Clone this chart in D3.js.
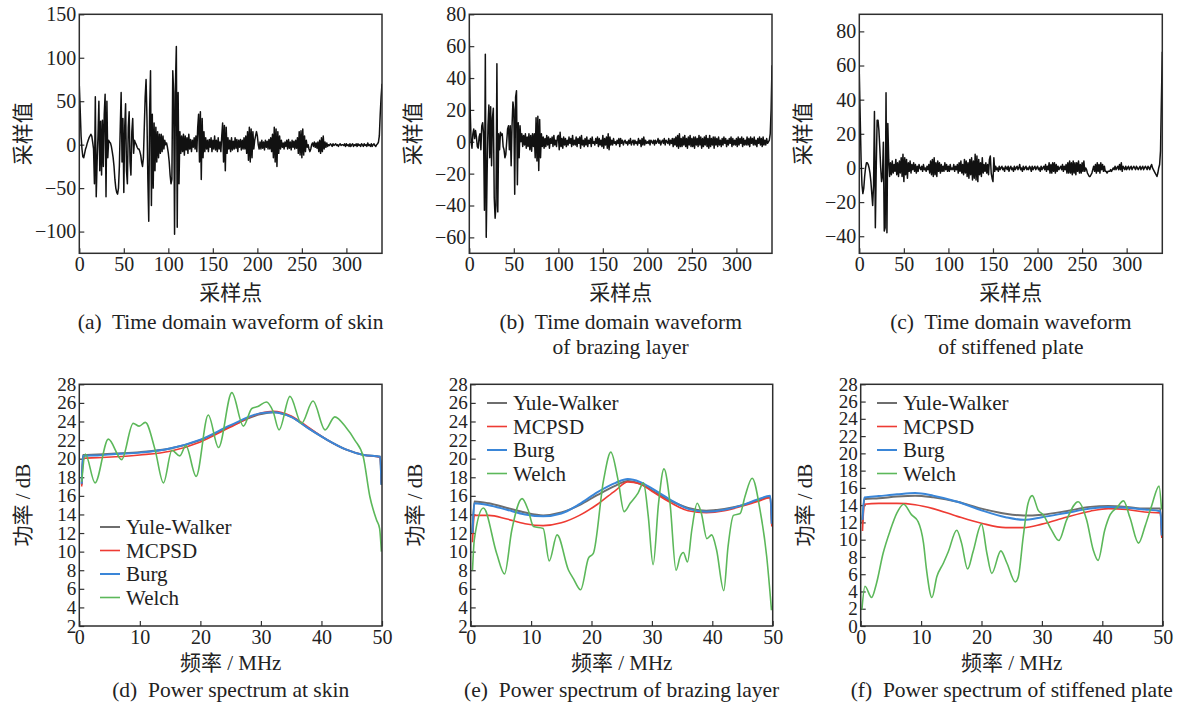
<!DOCTYPE html>
<html>
<head>
<meta charset="utf-8">
<script src="https://cdn.jsdelivr.net/npm/d3@7"></script>
<style>
  body { margin: 0; background: #fff; }
</style>
</head>
<body>
<script>
// ---- data: time-domain waveforms (one value per sample, 0..340) ----
var waveSkin = [
  68, 40, 10, -5, -14, -15, -10, -5, -2, 2, 5, 8, 10, 12, 10, 3, -5, -45, 55, -60,
  -20, 10, 50, -30, 27, -35, 28, -25, 35, 58, -60, 50, -15, 5, 3, 2, -2, -8, -15, -25,
  -40, -50, -55, -57, -50, -25, 20, 60, -20, 30, -55, 20, 47, -30, -45, 20, 38, -20, -35, 15,
  30, -10, 5, 2, 0, -3, -5, -5, -8, -12, -20, -25, -15, 20, 55, 75, 30, -40, -88, 40,
  85, -70, 35, -50, 25, -30, 20, -20, 15, -15, 12, -10, 12, -8, 10, -5, 5, 0, 2, -3,
  -10, -20, -35, -45, -40, 85, 60, -103, 70, 113, -95, 60, -45, 15, -10, 10, -8, 12, -12, 10,
  -6, 8, -10, 12, -5, 6, -8, 5, -3, 8, -5, 10, -8, 20, 35, -20, 38, -40, 30, -15,
  15, -8, 8, -5, 5, -8, 6, -3, 8, -8, 5, -5, 10, -6, 5, -8, 8, -5, 3, -8,
  10, 25, -20, 22, -30, 20, -10, 8, -5, 5, -8, 8, -6, 4, -5, 8, -4, 6, -8, 5,
  -3, 6, -6, 5, -5, 8, -5, 10, -10, 15, -18, 20, -20, 18, -15, 15, -5, 5, 10, 15,
  10, 0, -5, 3, -5, 5, -4, 3, -6, 5, -3, 4, -5, 6, -5, 8, -8, 12, -15, 20,
  -20, 18, -25, 15, -10, 10, -5, 5, -3, 2, -5, 3, -2, 5, -5, 6, -4, 3, -6, 5,
  -3, 4, -5, 5, -4, 8, -10, 15, -12, 16, -15, 18, -12, 10, -8, 5, -3, 0, -5, -8,
  -5, 0, 2, -2, 3, -3, 2, -4, 3, -8, 5, -10, 8, -8, 10, -5, 3, -3, 2, -2,
  0, -1, 1, 0, -2, 1, -1, 0, 1, -1, 0, -2, 0, 1, -1, 0, 0, -1, 1, -2,
  1, -1, 0, -2, 1, -2, 0, 1, -2, 0, -1, 1, -2, 1, -1, 0, -2, 1, 0, -2,
  1, -1, 0, -2, 2, -1, 0, -2, 1, -2, 0, 1, -1, -2, 0, 1, 3, 10, 35, 55,
  70
];
var waveBrazing = [
  65, 20, 0, -4, 5, 8, 2, 7, 3, -3, -4, 3, 5, -5, 10, 12, 5, -43, 55, -60,
  -20, 10, 23, -10, 22, -15, 15, 21, -35, -48, -40, 49, -44, 5, -5, 6, 4, 5, -3, -5,
  -10, -8, 0, 8, 10, -5, 10, -15, 10, 25, 20, -33, 28, 32, -27, 12, -10, 10, 0, 5,
  -3, 4, -2, 5, -4, 3, -3, 5, -5, 4, -6, 5, -3, 5, -10, 15, -12, 16, -18, 14,
  -10, 5, -3, 3, -4, 2, -3, 4, -2, 3, -4, 2, -1, 3, -3, 4, -2, 1, -3, 3,
  4, -5, 6, -3, 2, -4, 3, -2, 2, -3, 1, -2, 3, -1, 2, -3, 4, -2, 1, -2,
  3, -3, 2, -1, 3, -4, 4, -2, 1, -3, 2, -2, 3, -3, 1, -1, 2, -3, 3, -1,
  0, -2, 2, -1, 3, -3, 2, -2, 1, -3, 4, -4, 2, -2, 3, -4, 5, -5, 3, -2,
  1, -2, 2, -1, 0, -2, 1, -1, 2, -3, 2, -1, 1, -2, 0, 1, -1, 0, -2, 1,
  -1, 2, -2, 0, 1, -2, 1, -1, 0, -2, 2, -1, 1, -3, 2, -2, 3, -2, 1, -1,
  0, -1, 1, -2, 1, 0, -1, 1, -2, 1, -1, 0, 2, -1, 1, -2, 0, 1, -1, 2,
  -2, 1, 0, -1, 2, -2, 1, -1, 2, -3, 2, -2, 3, -3, 4, -4, 5, -3, 2, -3,
  3, -2, 4, -3, 2, -4, 3, -2, 4, -3, 2, -3, 3, -4, 3, -2, 2, -3, 4, -2,
  3, -4, 2, -3, 3, -2, 4, -3, 2, -4, 4, -3, 2, -2, 3, -4, 3, -2, 2, -3,
  3, -2, 1, -3, 2, -2, 3, -1, 2, -3, 1, -2, 2, -1, 3, -3, 2, -2, 1, -2,
  2, -3, 3, -2, 2, -1, 3, -3, 2, -2, 1, -2, 3, -2, 2, -3, 3, -1, 2, -2,
  3, -2, 1, -3, 2, -1, 3, -2, 2, -3, 3, -2, 1, -2, 2, -1, 0, 1, 5, 20,
  48
];
var wavePlate = [
  55, 30, 5, -10, -15, -12, -5, 0, 3, 3, 2, 0, -3, -8, -15, -22, -10, 33, -35, 0,
  28, 28, 22, 12, 0, -8, -5, 15, -37, -35, 44, -38, 26, 5, -5, 3, -4, 4, -3, 2,
  -2, 5, -4, 3, -5, 4, -3, 6, -5, 8, -8, 6, -4, 5, -6, 3, -2, 4, -3, 2,
  -1, 3, -2, 2, -3, 1, -2, 2, 0, -1, 1, -2, 2, -1, 0, -2, 1, -1, 2, -3,
  4, -4, 5, -5, 6, -4, 3, -5, 4, -2, 3, -3, 2, -2, 1, -2, 3, -1, 2, -2,
  1, -2, 2, -1, 0, -1, 2, -2, 1, -1, 2, -3, 3, -2, 4, -3, 2, -4, 5, -3,
  4, -5, 3, -6, 5, -4, 6, -7, 4, -6, 8, -7, 7, -8, 5, -4, 3, -5, 6, -3,
  2, -2, 3, -3, 2, -4, 5, 7, -3, -6, -8, 6, -2, 1, -1, 0, -2, 1, -1, 0,
  1, -1, 0, -2, 1, 0, -1, 1, -2, 0, 1, -1, 0, -2, 1, -1, 0, 1, -1, 0,
  2, -1, 0, -2, 1, -1, 0, 1, -1, 0, -1, 1, 0, -2, 1, -1, 0, 1, -1, 0,
  1, -1, 0, -2, 1, -1, 0, 1, -1, 2, -2, 1, -1, 3, -3, 2, -3, 3, -2, 3,
  -3, 2, -2, 1, -1, 0, 1, -1, 2, -2, 1, -1, 2, -3, 3, -3, 4, -3, 3, -4,
  4, -3, 3, -4, 3, -2, 4, -3, 2, -3, 3, -2, 4, -2, 0, -1, -3, -4, -5, -5,
  -4, -3, -1, 1, -2, 2, -3, 3, -2, 2, -3, 3, -1, 2, -2, 1, -2, -2, -3, -2,
  -2, -2, -1, -2, -1, 0, -1, 1, -1, 0, 1, -1, 2, -1, 3, -2, 1, 0, -1, 1,
  -1, 0, 1, -1, 0, 1, -1, 0, 1, 0, -1, 1, 0, -1, 0, 1, -1, 0, 1, -1,
  0, 1, 0, -1, 1, 0, -1, 1, 2, 0, -1, -2, -3, -4, -5, -3, 0, 2, 10, 40,
  68
];

// ---- data: power spectra (MHz, dB) ----
var skinArFreq = [0.4, 0.6, 3, 6, 10, 15, 20, 25, 30, 32, 35, 38, 41, 44, 47, 49.7, 49.9];
var skinYuleWalker = [17.2, 20.4, 20.45, 20.55, 20.7, 21.1, 22.0, 23.5, 24.8, 25.0, 24.5, 23.2, 22.0, 21.0, 20.4, 20.2, 17.2];
var skinMcpsd = [17.0, 20.05, 20.1, 20.2, 20.4, 20.8, 21.8, 23.4, 24.9, 25.1, 24.6, 23.3, 22.0, 21.0, 20.4, 20.15, 17.4];
var skinBurg = [17.3, 20.3, 20.35, 20.5, 20.65, 21.1, 22.05, 23.6, 24.9, 25.0, 24.5, 23.2, 22.0, 21.0, 20.4, 20.2, 17.2];
var skinWelchFreq = [0.4, 1.0, 2.6, 4.8, 7.0, 8.9, 9.9, 10.9, 12.5, 13.9, 15.3, 16.6, 17.6, 19.3, 21.3, 23.0, 25.2, 27.1, 28.5, 29.5,
  30.9, 32.0, 33.0, 34.8, 36.7, 38.6, 40.6, 42.2, 44.0, 45.5, 46.9, 48.0, 49.1, 49.6, 49.9];
var skinWelch = [17.5, 20.5, 17.4, 22.1, 19.9, 23.8, 23.5, 23.9, 21.0, 17.4, 20.9, 20.3, 21.4, 18.1, 24.7, 21.2, 27.1, 23.5, 25.4, 25.6,
  26.1, 25.1, 23.1, 26.7, 23.8, 26.2, 23.1, 24.5, 23.4, 22.0, 20.2, 15.9, 13.4, 12.5, 10.0];

var brazArFreq = [0.3, 0.6, 3, 6, 9, 12, 15, 18, 21, 24, 26, 28, 30, 33, 36, 39, 42, 45, 47.5, 49.6, 49.85];
var brazYuleWalker = [12.0, 15.4, 15.2, 14.7, 14.2, 13.9, 14.2, 15.0, 16.1, 17.1, 17.6, 17.3, 16.6, 15.5, 14.7, 14.4, 14.6, 15.0, 15.5, 15.9, 13.0];
var brazMcpsd = [11.0, 13.9, 13.9, 13.5, 13.0, 12.8, 13.1, 13.9, 15.1, 16.6, 17.5, 17.3, 16.5, 15.3, 14.4, 14.2, 14.4, 14.9, 15.4, 15.8, 12.7];
var brazBurg = [12.0, 15.2, 15.0, 14.5, 14.0, 13.8, 14.1, 15.1, 16.4, 17.4, 17.8, 17.5, 16.8, 15.6, 14.6, 14.3, 14.5, 15.0, 15.6, 16.0, 13.0];
var brazWelchFreq = [0.3, 0.6, 2.1, 4.3, 5.6, 6.8, 8.5, 9.5, 10.4, 12.0, 13.0, 14.3, 16.2, 17.0, 18.2, 19.5, 20.3, 22.0, 23.2, 24.4,
  25.4, 26.4, 27.7, 28.6, 29.4, 30.2, 31.1, 32.0, 33.0, 34.0, 34.7, 35.2, 35.9, 36.6, 37.5, 38.2, 39.1, 39.9, 40.7, 41.9,
  42.6, 43.5, 44.6, 45.4, 46.6, 47.9, 49.0, 49.8];
var brazWelch = [8.0, 11.3, 14.7, 9.8, 7.6, 12.3, 15.7, 14.5, 12.7, 12.5, 9.0, 11.8, 8.0, 7.1, 5.9, 9.3, 9.8, 17.7, 20.7, 17.7,
  14.3, 15.2, 16.3, 17.4, 13.8, 8.6, 15.2, 18.9, 15.2, 8.0, 9.5, 9.9, 8.9, 12.3, 15.2, 14.1, 11.4, 11.8, 10.2, 5.8,
  10.5, 13.9, 14.1, 15.9, 17.9, 14.5, 9.5, 3.7];

var plateArFreq = [0.3, 0.6, 3, 6, 9, 12, 16, 20, 24, 27, 30, 34, 38, 41, 44, 47, 49.6, 49.85];
var plateYuleWalker = [12.0, 14.7, 14.8, 15.0, 15.1, 14.9, 14.4, 13.6, 13.0, 12.8, 12.9, 13.3, 13.8, 13.9, 13.8, 13.6, 13.6, 10.5];
var plateMcpsd = [11.0, 14.1, 14.2, 14.2, 14.05, 13.6, 12.7, 11.9, 11.4, 11.4, 11.8, 12.6, 13.3, 13.6, 13.5, 13.2, 13.1, 10.2];
var plateBurg = [12.3, 14.9, 15.05, 15.25, 15.4, 15.1, 14.4, 13.4, 12.6, 12.3, 12.6, 13.1, 13.6, 13.8, 13.7, 13.5, 13.3, 10.5];
var plateWelchFreq = [0.2, 0.7, 1.8, 2.6, 3.7, 4.9, 6.0, 7.1, 8.4, 9.5, 10.4, 10.9, 11.8, 12.6, 13.7, 14.5, 15.9, 16.7, 17.7, 18.6,
  20.0, 20.9, 21.7, 23.2, 24.2, 25.6, 26.1, 26.9, 27.7, 28.4, 29.4, 30.2, 31.6, 32.8, 34.1, 36.0, 37.4, 38.5, 39.3, 40.4,
  41.3, 42.4, 43.5, 44.6, 46.0, 47.1, 48.2, 49.4, 49.8];
var plateWelch = [1.9, 4.6, 3.3, 4.9, 8.4, 11.1, 13.1, 14.1, 12.9, 12.1, 9.6, 6.5, 3.3, 5.7, 7.3, 8.6, 11.1, 9.6, 6.6, 8.6,
  11.8, 8.4, 6.1, 8.7, 7.3, 5.1, 5.7, 10.3, 14.2, 15.1, 13.4, 12.9, 11.1, 9.9, 12.3, 14.4, 12.3, 8.8, 7.6, 11.1,
  12.9, 13.7, 14.5, 12.5, 9.6, 11.6, 14.0, 16.2, 13.5];

// ---- tick labels / names ----
var sampleTicks = [0, 50, 100, 150, 200, 250, 300];
var skinWaveTicks = [-100, -50, 0, 50, 100, 150];
var brazWaveTicks = [-60, -40, -20, 0, 20, 40, 60, 80];
var plateWaveTicks = [-40, -20, 0, 20, 40, 60, 80];
var freqTicks = [0, 10, 20, 30, 40, 50];
var dbTicks = [2, 4, 6, 8, 10, 12, 14, 16, 18, 20, 22, 24, 26, 28];
var dbTicksPlate = [0, 2, 4, 6, 8, 10, 12, 14, 16, 18, 20, 22, 24, 26, 28];
var methodNames = ["Yule-Walker", "MCPSD", "Burg", "Welch"];
var methodColors = ["#6e6e6e", "#ee3b33", "#3a86d8", "#5cb85a"];
var methodWidths = [2, 1.6, 2, 1.6];

var serif = "'Liberation Serif', 'Times New Roman', 'Noto Sans CJK SC', serif";

// Step 1: the canvas
var svg = d3.select("body")
            .append("svg")
            .attr("width", 1185)
            .attr("height", 707)
            .style("font-family", serif);

svg.append("rect").attr("width", 1185).attr("height", 707).attr("fill", "#fff");

var clipId = 0;

// Step 2: a generic framed panel with inside ticks
function panel(p) {
  var x = d3.scaleLinear().domain(p.xDomain).range([p.left, p.right]);
  var y = d3.scaleLinear().domain(p.yDomain).range([p.bottom, p.top]);

  var xAxis = svg.append("g")
                 .attr("transform", "translate(0," + p.bottom + ")")
                 .call(d3.axisBottom(x).tickValues(p.xTicks).tickSize(-5).tickPadding(4).tickFormat(d3.format("d")));
  var yAxis = svg.append("g")
                 .attr("transform", "translate(" + p.left + ",0)")
                 .call(d3.axisLeft(y).tickValues(p.yTicks).tickSize(-5).tickPadding(3).tickFormat(d3.format("d")));
  [xAxis, yAxis].forEach(function(g) {
    g.select(".domain").remove();
    g.selectAll(".tick line").attr("stroke", "#333").attr("stroke-width", 1.2);
    g.selectAll(".tick text")
     .attr("fill", "#222")
     .style("font-family", serif)
     .style("font-size", "20px");
  });
  // the dense dB labels are set a touch smaller
  if (p.yTickSize) yAxis.selectAll(".tick text").style("font-size", p.yTickSize);

  clipId++;
  svg.append("clipPath").attr("id", "clip" + clipId)
     .append("rect")
     .attr("x", p.left).attr("y", p.top)
     .attr("width", p.right - p.left).attr("height", p.bottom - p.top);
  var plot = svg.append("g").attr("clip-path", "url(#clip" + clipId + ")");

  // frame
  svg.append("rect")
     .attr("x", p.left).attr("y", p.top)
     .attr("width", p.right - p.left).attr("height", p.bottom - p.top)
     .attr("fill", "none")
     .attr("stroke", "#2e2e2e")
     .attr("stroke-width", 1.5);

  // axis titles
  svg.append("text")
     .attr("transform", "translate(" + (p.left - 56) + "," + ((p.top + p.bottom) / 2) + ") rotate(-90)")
     .attr("text-anchor", "middle")
     .attr("dominant-baseline", "central")
     .attr("fill", "#222")
     .style("font-size", "21px")
     .text(p.yTitle);
  svg.append("text")
     .attr("x", (p.left + p.right) / 2)
     .attr("y", p.xTitleY)
     .attr("text-anchor", "middle")
     .attr("fill", "#222")
     .style("font-size", "21px")
     .text(p.xTitle);

  // captions
  p.caption.forEach(function(line, i) {
    svg.append("text")
       .attr("x", (p.left + p.right) / 2)
       .attr("y", p.captionY + i * 25)
       .attr("text-anchor", "middle")
       .attr("fill", "#222")
       .style("font-size", "21.5px")
       .style("white-space", "pre")
       .text(line);
  });

  return { x: x, y: y, plot: plot };
}

// Step 3: the three time-domain waveforms
function wavePanel(p, values) {
  var c = panel(p);
  var line = d3.line()
               .x(function(d, i) { return c.x(i); })
               .y(function(d) { return c.y(d); });
  c.plot.append("path")
        .datum(values)
        .attr("d", line)
        .attr("fill", "none")
        .attr("stroke", "#111")
        .attr("stroke-width", 1.5)
        .attr("stroke-linejoin", "round");
}

var topCommon = { top: 14.3, bottom: 253.3, xDomain: [0, 340], xTicks: sampleTicks,
                  yTitle: "采样值", xTitle: "采样点", xTitleY: 300, captionY: 329 };

wavePanel(Object.assign({}, topCommon, { left: 79.3, right: 382, yDomain: [-125, 150], yTicks: skinWaveTicks,
          caption: ["(a)  Time domain waveform of skin"] }), waveSkin);
wavePanel(Object.assign({}, topCommon, { left: 469.3, right: 772, yDomain: [-70, 80], yTicks: brazWaveTicks,
          caption: ["(b)  Time domain waveform", "of brazing layer"] }), waveBrazing);
wavePanel(Object.assign({}, topCommon, { left: 859.3, right: 1162.3, yDomain: [-50, 90], yTicks: plateWaveTicks,
          caption: ["(c)  Time domain waveform", "of stiffened plate"] }), wavePlate);

// Step 4: the three power spectra
function spectrumPanel(p, arFreq, series, welchFreq, welch, legend) {
  var c = panel(p);
  var line = d3.line()
               .x(function(d) { return c.x(d[0]); })
               .y(function(d) { return c.y(d[1]); })
               .curve(d3.curveMonotoneX);

  series.forEach(function(vals, k) {
    c.plot.append("path")
          .datum(d3.zip(arFreq, vals))
          .attr("d", line)
          .attr("fill", "none")
          .attr("stroke", methodColors[k])
          .attr("stroke-width", methodWidths[k]);
  });
  c.plot.append("path")
        .datum(d3.zip(welchFreq, welch))
        .attr("d", line)
        .attr("fill", "none")
        .attr("stroke", methodColors[3])
        .attr("stroke-width", methodWidths[3]);

  // legend
  var lg = svg.append("g").attr("transform", "translate(" + legend.x + "," + legend.y + ")");
  methodNames.forEach(function(name, k) {
    lg.append("line")
      .attr("x1", 0).attr("x2", 20)
      .attr("y1", k * 23.5).attr("y2", k * 23.5)
      .attr("stroke", methodColors[k])
      .attr("stroke-width", methodWidths[k]);
    lg.append("text")
      .attr("x", 26).attr("y", k * 23.5)
      .attr("dominant-baseline", "central")
      .attr("fill", "#222")
      .style("font-size", "21px")
      .text(name);
  });
}

var botCommon = { top: 384.3, bottom: 626, xDomain: [0, 50], xTicks: freqTicks, yTickSize: "19px",
                  yTitle: "功率 / dB", xTitle: "频率 / MHz", xTitleY: 670, captionY: 697 };

spectrumPanel(Object.assign({}, botCommon, { left: 79.3, right: 382, yDomain: [2, 28], yTicks: dbTicks,
              caption: ["(d)  Power spectrum at skin"] }),
              skinArFreq, [skinYuleWalker, skinMcpsd, skinBurg], skinWelchFreq, skinWelch, { x: 100, y: 527 });
spectrumPanel(Object.assign({}, botCommon, { left: 470.7, right: 772.7, yDomain: [2, 28], yTicks: dbTicks,
              caption: ["(e)  Power spectrum of brazing layer"] }),
              brazArFreq, [brazYuleWalker, brazMcpsd, brazBurg], brazWelchFreq, brazWelch, { x: 487, y: 403 });
spectrumPanel(Object.assign({}, botCommon, { left: 860.7, right: 1162.7, yDomain: [0, 28], yTicks: dbTicksPlate,
              caption: ["(f)  Power spectrum of stiffened plate"] }),
              plateArFreq, [plateYuleWalker, plateMcpsd, plateBurg], plateWelchFreq, plateWelch, { x: 877, y: 403 });
</script>
</body>
</html>
